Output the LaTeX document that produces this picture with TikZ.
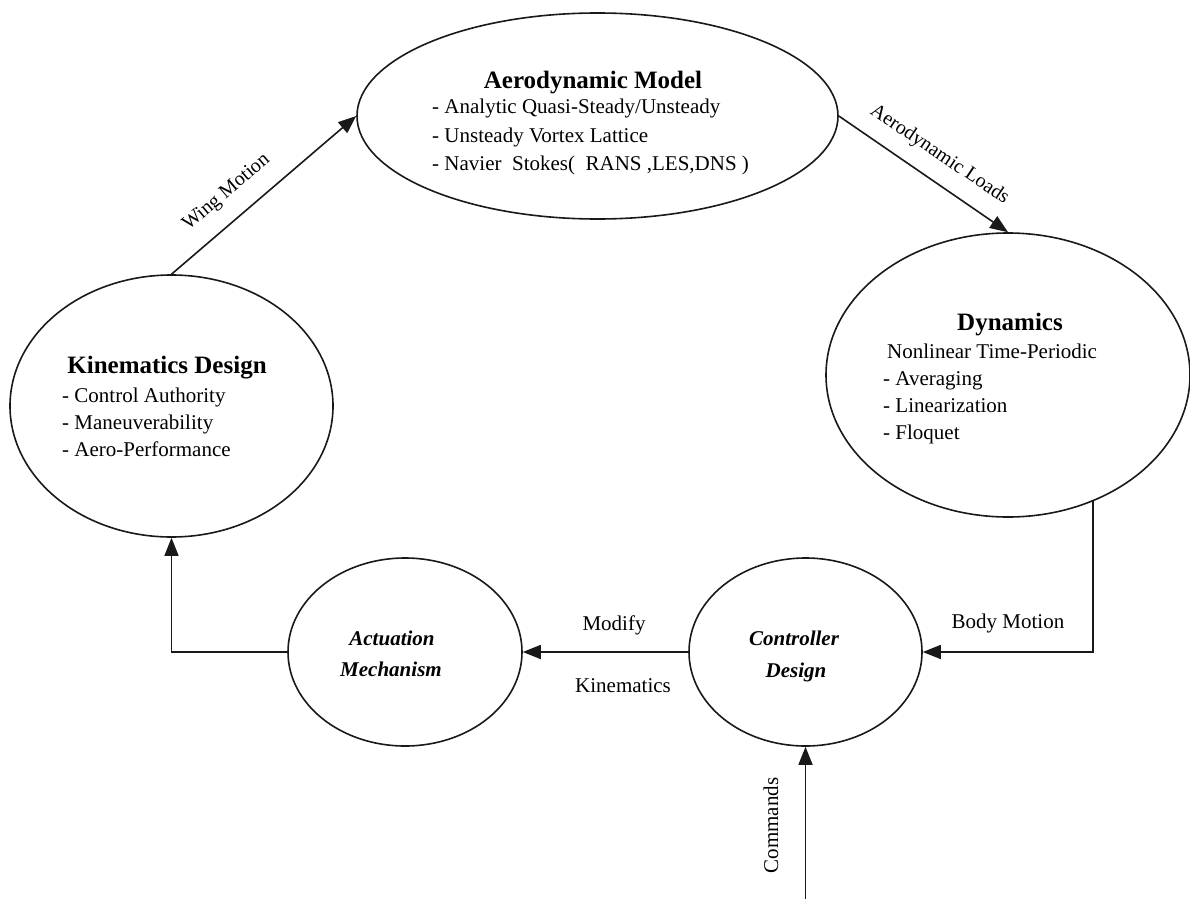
\documentclass[tikz,border=0pt]{standalone}
\usepackage{fontspec}
\setmainfont{Liberation Serif}
\usetikzlibrary{shapes.geometric,arrows.meta}
\begin{document}
\begin{tikzpicture}[x=1pt,y=-1pt,
  blob/.style={ellipse, draw=black!90, line width=1.6pt, inner sep=0pt},
  conn/.style={draw=black!90, line width=1.6pt, -{Triangle[length=18pt,width=14pt]}},
  ttl/.style={anchor=base, inner sep=0pt, font=\fontsize{25}{30}\selectfont\bfseries},
  itm/.style={anchor=base west, inner sep=0pt, font=\fontsize{21}{25}\selectfont},
  lbl/.style={anchor=base, inner sep=0pt, font=\fontsize{21}{25}\selectfont},
  rlbl/.style={anchor=base, inner sep=0pt, font=\fontsize{20}{24}\selectfont},
  ital/.style={anchor=base, inner sep=0pt, font=\fontsize{21}{25}\selectfont\bfseries\itshape},
]
\useasboundingbox (0,0) rectangle (1190,899);

% ellipses
\node[blob, minimum width=481pt, minimum height=206pt] (aero) at (597.5,116) {};
\node[blob, minimum width=323pt, minimum height=262pt] (kin) at (171.5,406) {};
\node[blob, minimum width=364pt, minimum height=284pt] (dyn) at (1008,375) {};
\node[blob, minimum width=234pt, minimum height=188pt] (act) at (405,652) {};
\node[blob, minimum width=233pt, minimum height=188pt] (con) at (805.5,652) {};

% aerodynamic model text
\node[ttl] (aero-t) at (593,88) {Aerodynamic Model};
\node[itm] (aero-1) at (432,113) {- Analytic Quasi-Steady/Unsteady};
\node[itm] (aero-2) at (432,142) {- Unsteady Vortex Lattice};
\node[itm] (aero-3) at (432,170) {- Navier\ \ Stokes(\ \ RANS ,LES,DNS )};

% kinematics design text
\node[ttl] (kin-t) at (167,373) {Kinematics Design};
\node[itm] (kin-1) at (62,402) {- Control Authority};
\node[itm] (kin-2) at (62,429) {- Maneuverability};
\node[itm] (kin-3) at (62,456) {- Aero-Performance};

% dynamics text
\node[ttl] (dyn-t) at (1010,330) {Dynamics};
\node[itm] (dyn-1) at (887,358) {Nonlinear Time-Periodic};
\node[itm] (dyn-2) at (883,385) {- Averaging};
\node[itm] (dyn-3) at (883,412) {- Linearization};
\node[itm] (dyn-4) at (883,439) {- Floquet};

% actuation / controller text
\node[ital] (act-1) at (392,645) {Actuation};
\node[ital] (act-2) at (391,676) {Mechanism};
\node[ital] (con-1) at (794,645) {Controller};
\node[ital] (con-2) at (796,677) {Design};

% connectors
\draw[conn] (kin.north) -- (aero.west);
\draw[conn] (aero.east) -- (dyn.north);
\draw[conn] (dyn.-56) |- (con.east);
\draw[conn] (con.west) -- (act.east);
\draw[conn] (act.west) -| (kin.south);
\coordinate (cmd) at (805.5,899);
\draw[conn] (cmd) -- (con.south);

% connector labels
\node[rlbl, rotate=40.3] (wing) at (229.5,196) {Wing Motion};
\node[rlbl, rotate=-34] (loads) at (936.8,158.8) {Aerodynamic Loads};
\node[lbl] (body) at (1008,628) {Body Motion};
\node[lbl] (modify) at (614,630) {Modify};
\node[lbl] (kinem) at (623,692) {Kinematics};
\node[lbl, rotate=90] (cmdl) at (778,825.5) {Commands};
\end{tikzpicture}
\end{document}
